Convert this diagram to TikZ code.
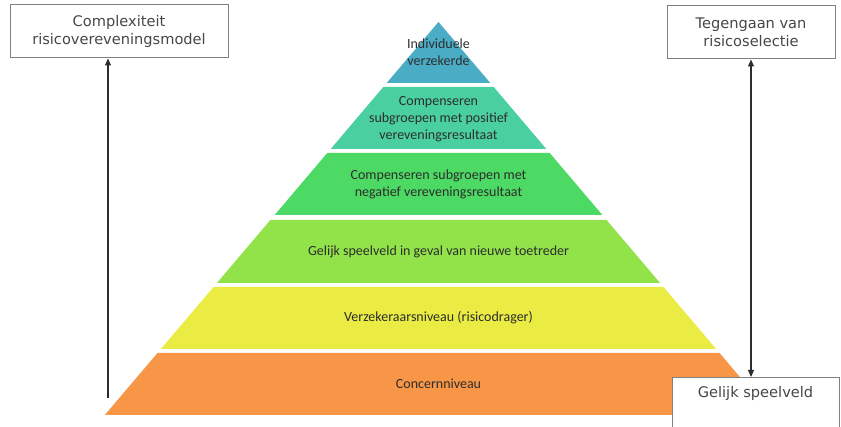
\documentclass[tikz,border=0pt]{standalone}
\usepackage{fontspec}
\setmainfont{Carlito}
\newfontfamily\boxfont{DejaVu Sans}
\usetikzlibrary{arrows.meta}
\definecolor{laag1}{RGB}{75,172,198}
\definecolor{laag2}{RGB}{74,208,160}
\definecolor{laag3}{RGB}{76,217,100}
\definecolor{laag4}{RGB}{146,226,74}
\definecolor{laag5}{RGB}{234,236,68}
\definecolor{laag6}{RGB}{247,150,70}
\definecolor{tekst}{RGB}{45,45,45}
\definecolor{kadertekst}{RGB}{70,70,75}
\definecolor{kader}{RGB}{128,128,128}

\begin{document}
\begin{tikzpicture}[x=1pt, y=-1pt,
        laagtekst/.style = {align=center, text=tekst, font=\fontsize{14}{17}\selectfont},
        kaderbox/.style = {draw=kader, line width=1pt, fill=white, align=center,
            text=kadertekst, font=\boxfont\fontsize{14.6}{18}\selectfont},
        pijl/.style = {draw=tekst, line width=1.1pt}]
        \useasboundingbox (0,0) rectangle (841,427);
        % pyramide: top driehoek en vijf lagen
        \fill[laag1] (438.5,22) -- ({438.5-61*0.849},83) -- ({438.5+61*0.849},83) -- cycle;
        \foreach \ya/\yb/\kleur in {87/149/laag2, 153/215/laag3, 220/283/laag4, 287/349/laag5, 353/415/laag6}{
            \pgfmathsetmacro\wa{(\ya-22)*0.849}
            \pgfmathsetmacro\wb{(\yb-22)*0.849}
            \fill[\kleur] ({438.5-\wa},\ya) -- ({438.5+\wa},\ya) -- ({438.5+\wb},\yb) -- ({438.5-\wb},\yb) -- cycle;
        }
        \node[laagtekst] (individu) at (438.5, 52) {Individuele\\verzekerde};
        \node[laagtekst] (positief) at (438.5, 119) {Compenseren\\subgroepen met positief\\vereveningsresultaat};
        \node[laagtekst] (negatief) at (438.5, 184.5) {Compenseren subgroepen met\\negatief vereveningsresultaat};
        \node[laagtekst] (toetreder) at (438.5, 251.5) {Gelijk speelveld in geval van nieuwe toetreder};
        \node[laagtekst] (verzekeraar) at (438.5, 318) {Verzekeraarsniveau (risicodrager)};
        \node[laagtekst] (concern) at (438.5, 384) {Concernniveau};
        % kaders
        \node[kaderbox, minimum width=218pt, minimum height=53pt] (complex) at (119, 31.5) {Complexiteit\\risicovereveningsmodel};
        \node[kaderbox, minimum width=168pt, minimum height=53pt] (tegengaan) at (751, 32.5) {Tegengaan van\\risicoselectie};
        \node[kaderbox, minimum width=167pt, anchor=north, inner ysep=9pt, text depth=45pt] (gelijk) at (755.5, 377) {Gelijk speelveld};
        % pijlen
        \coordinate (onder) at (108, 398);
        \draw[pijl, -{Triangle[width=6pt,length=7pt]}] (onder) -- (onder |- complex.south);
        \draw[pijl, {Triangle[width=6pt,length=7pt]}-{Triangle[width=6pt,length=7pt]}] (tegengaan.south) -- (tegengaan.south |- gelijk.north);
\end{tikzpicture}
\end{document}
